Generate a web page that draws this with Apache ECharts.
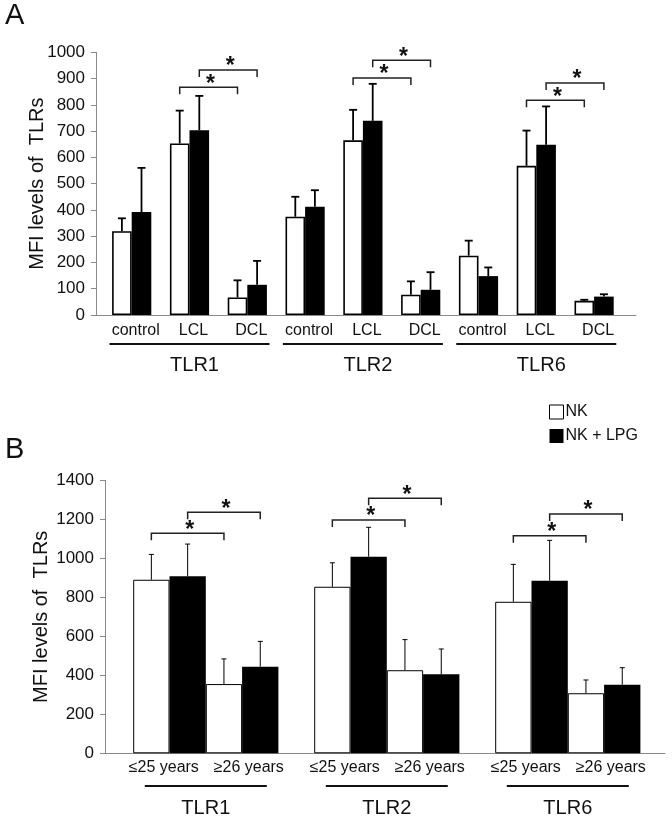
<!DOCTYPE html>
<html><head><meta charset="utf-8">
<script src="https://cdn.jsdelivr.net/npm/echarts@6/dist/echarts.min.js"></script>
<style>html,body{margin:0;padding:0;background:#fff}#c{width:672px;height:821px}</style>
</head><body><div id="c"></div>
<script>
// ---------- Panel A data ----------
const categoriesA = ['control','LCL','DCL','control','LCL','DCL','control','LCL','DCL'];
const groupsA = ['TLR1','TLR2','TLR6'];
const groupMidA = [1, 4, 7];
const nkA = [319, 653, 67, 374, 665, 77, 226, 568, 54];
const nkSdA = [49, 125, 65, 76, 116, 51, 57, 134, 4];
const lpgA = [392, 703, 115, 412, 739, 96, 148, 648, 70];
const lpgSdA = [168, 131, 91, 63, 141, 67, 33, 146, 9];
// [fromCategory, fromSeries, toCategory, toSeries, level]
const bracketsA = [[1,0,2,0,867],[1,1,2,1,933],[4,0,5,0,902],[4,1,5,1,970],[7,0,8,0,817],[7,1,8,1,883]];
const yMinA = 0, yMaxA = 1000, yStepA = 100;

// ---------- Panel B data ----------
const categoriesB = ['TLR1','TLR2','TLR6'];
const ageLabelsB = ['≤25 years','≥26 years'];
const nkYoungB = [890, 854, 777];
const nkYoungSdB = [130, 123, 192];
const lpgYoungB = [908, 1008, 885];
const lpgYoungSdB = [165, 151, 207];
const nkOldB = [355, 426, 308];
const nkOldSdB = [129, 157, 68];
const lpgOldB = [444, 405, 352];
const lpgOldSdB = [130, 130, 87];
const bracketsB = [[0,0,0,2,1128],[0,1,0,3,1236],[1,0,1,2,1196],[1,1,1,3,1308],[2,0,2,2,1116],[2,1,2,3,1227]];
const yMinB = 0, yMaxB = 1400, yStepB = 200;

const seriesNames = ['NK', 'NK + LPG'];
const yTitle = 'MFI levels of  TLRs';

// ---------- style constants ----------
const FONT = '"Liberation Sans", Arial, Helvetica, sans-serif';
const AXIS = '#8a8a8a';
const BW_A = 19.6, BW_B = 36.3;

function off(k, n, w) { return (k - (n - 1) / 2) * w; }

function errorSeries(vals, sds, k, n, w, xi, yi, cap, lw) {
  return {
    type: 'custom', xAxisIndex: xi, yAxisIndex: yi, z: 5, silent: true,
    encode: { x: 0, y: 1 },
    data: vals.map((v, i) => [i, v, sds[i]]),
    renderItem(params, api) {
      const c = api.value(0), v = api.value(1), s = api.value(2);
      const b = api.coord([c, v]), t = api.coord([c, v + s]);
      const x = b[0] + off(k, n, w);
      const st = { stroke: '#000', lineWidth: lw };
      return { type: 'group', children: [
        { type: 'line', shape: { x1: x, y1: b[1], x2: x, y2: t[1] }, style: st },
        { type: 'line', shape: { x1: x - cap, y1: t[1], x2: x + cap, y2: t[1] }, style: st }
      ]};
    }
  };
}

function bracketSeries(data, n, w, xi, yi, tip, starGap) {
  return {
    type: 'custom', xAxisIndex: xi, yAxisIndex: yi, z: 6, silent: true,
    encode: { x: [0, 2], y: 4 },
    data: data,
    renderItem(params, api) {
      const p1 = api.coord([api.value(0), api.value(4)]);
      const p2 = api.coord([api.value(2), api.value(4)]);
      const x1 = p1[0] + off(api.value(1), n, w);
      const x2 = p2[0] + off(api.value(3), n, w);
      const y = p1[1];
      return { type: 'group', children: [
        { type: 'polyline', shape: { points: [[x1, y + tip], [x1, y], [x2, y], [x2, y + tip]] },
          style: { stroke: '#222', lineWidth: 1.5, fill: null } },
        { type: 'text', style: { text: '*', x: (x1 + x2) / 2 + 2, y: y - starGap, align: 'center',
          verticalAlign: 'middle', fontSize: 23, fontWeight: 'bold', fontFamily: FONT, fill: '#111' } }
      ]};
    }
  };
}

const yLabel = { fontSize: 17, fontFamily: FONT, color: '#111', margin: 11, formatter: v => String(v) };
const nameStyle = { fontSize: 20, fontFamily: FONT, color: '#111' };

const chart = echarts.init(document.getElementById('c'), null, { renderer: 'canvas' });
chart.setOption({
  animation: false,
  backgroundColor: '#fff',
  graphic: [
    { type: 'text', left: 5, top: 1, style: { text: 'A', fontSize: 29, fontFamily: FONT, fill: '#111' } },
    { type: 'text', left: 5, top: 435, style: { text: 'B', fontSize: 29, fontFamily: FONT, fill: '#111' } }
  ],
  legend: {
    orient: 'vertical', left: 549, top: 404, padding: 0, itemGap: 8,
    itemWidth: 14, itemHeight: 14, icon: 'rect', selectedMode: false,
    textStyle: { fontSize: 16, fontFamily: FONT, color: '#111', padding: [0, 0, 0, -3] },
    data: [
      { name: seriesNames[0], itemStyle: { color: '#fff', borderColor: '#000', borderWidth: 1 } },
      { name: seriesNames[1], itemStyle: { color: '#000' } }
    ]
  },
  grid: [
    { left: 96, right: 36, top: 52.3, bottom: 506 },        // A axes
    { left: 102.8, width: 520.2, top: 52.3, bottom: 506 },  // A bars
    { left: 105, right: 7, top: 480.3, bottom: 67.7 },      // B axes
    { left: 115.3, width: 543, top: 480.3, bottom: 67.7 }   // B bars
  ],
  xAxis: [
    { gridIndex: 0, type: 'value', min: 0, max: 1, axisLine: { show: true, onZero: false, lineStyle: { color: AXIS, width: 1 } },
      axisTick: { show: false }, axisLabel: { show: false }, splitLine: { show: false } },
    { gridIndex: 1, type: 'category', data: categoriesA, axisLine: { show: false }, axisTick: { show: false },
      axisLabel: { fontSize: 16, fontFamily: FONT, color: '#111', margin: 8, interval: 0, padding: [0, 0, 0, 8] } },
    { gridIndex: 2, type: 'value', min: 0, max: 1, axisLine: { show: true, onZero: false, lineStyle: { color: AXIS, width: 1 } },
      axisTick: { show: false }, axisLabel: { show: false }, splitLine: { show: false } },
    { gridIndex: 3, type: 'category', data: categoriesB, axisLine: { show: false }, axisTick: { show: false },
      axisLabel: { fontSize: 20, fontFamily: FONT, color: '#111', margin: 45, interval: 0 } }
  ],
  yAxis: [
    { gridIndex: 0, type: 'value', min: yMinA, max: yMaxA, interval: yStepA,
      axisLine: { show: true, lineStyle: { color: AXIS, width: 1 } },
      axisTick: { show: true, length: 5, lineStyle: { color: AXIS } },
      axisLabel: yLabel, splitLine: { show: false },
      name: yTitle, nameLocation: 'middle', nameGap: 49, nameMoveOverlap: false, nameTextStyle: nameStyle },
    { gridIndex: 1, type: 'value', min: yMinA, max: yMaxA, show: false },
    { gridIndex: 2, type: 'value', min: yMinB, max: yMaxB, interval: yStepB,
      axisLine: { show: true, lineStyle: { color: AXIS, width: 1 } },
      axisTick: { show: true, length: 5, lineStyle: { color: AXIS } },
      axisLabel: yLabel, splitLine: { show: false },
      name: yTitle, nameLocation: 'middle', nameGap: 54, nameMoveOverlap: false, nameTextStyle: nameStyle },
    { gridIndex: 3, type: 'value', min: yMinB, max: yMaxB, show: false }
  ],
  series: [
    // Panel A bars
    { type: 'bar', name: seriesNames[0], xAxisIndex: 1, yAxisIndex: 1, data: nkA, barWidth: BW_A, barGap: '0%',
      itemStyle: { color: '#fff', borderColor: '#000', borderWidth: 1.6 } },
    { type: 'bar', name: seriesNames[1], xAxisIndex: 1, yAxisIndex: 1, data: lpgA, barWidth: BW_A, barGap: '0%',
      itemStyle: { color: '#000' } },
    errorSeries(nkA, nkSdA, 0, 2, BW_A, 1, 1, 4, 1.8),
    errorSeries(lpgA, lpgSdA, 1, 2, BW_A, 1, 1, 4, 1.8),
    bracketSeries(bracketsA, 2, BW_A, 1, 1, 7, 3),
    // Panel A group labels + underlines
    { type: 'custom', xAxisIndex: 1, yAxisIndex: 1, silent: true, encode: { x: 0, y: 1 },
      data: groupMidA.map(m => [m, 0]),
      renderItem(params, api) {
        const p = api.coord([api.value(0), 0]);
        return { type: 'group', children: [
          { type: 'line', shape: { x1: p[0] - 80, y1: p[1] + 29, x2: p[0] + 80, y2: p[1] + 29 },
            style: { stroke: '#111', lineWidth: 2 } },
          { type: 'text', style: { text: groupsA[params.dataIndex], x: p[0] + 5, y: p[1] + 50, align: 'center',
            verticalAlign: 'middle', fontSize: 20, fontFamily: FONT, fill: '#111' } }
        ]};
      } },
    // Panel B bars
    { type: 'bar', name: seriesNames[0], xAxisIndex: 3, yAxisIndex: 3, data: nkYoungB, barWidth: BW_B, barGap: '0%',
      itemStyle: { color: '#fff', borderColor: '#000', borderWidth: 1 } },
    { type: 'bar', name: seriesNames[1], xAxisIndex: 3, yAxisIndex: 3, data: lpgYoungB, barWidth: BW_B, barGap: '0%',
      itemStyle: { color: '#000' } },
    { type: 'bar', name: seriesNames[0], xAxisIndex: 3, yAxisIndex: 3, data: nkOldB, barWidth: BW_B, barGap: '0%',
      itemStyle: { color: '#fff', borderColor: '#000', borderWidth: 1 } },
    { type: 'bar', name: seriesNames[1], xAxisIndex: 3, yAxisIndex: 3, data: lpgOldB, barWidth: BW_B, barGap: '0%',
      itemStyle: { color: '#000' } },
    errorSeries(nkYoungB, nkYoungSdB, 0, 4, BW_B, 3, 3, 2.5, 1),
    errorSeries(lpgYoungB, lpgYoungSdB, 1, 4, BW_B, 3, 3, 2.5, 1),
    errorSeries(nkOldB, nkOldSdB, 2, 4, BW_B, 3, 3, 2.5, 1),
    errorSeries(lpgOldB, lpgOldSdB, 3, 4, BW_B, 3, 3, 2.5, 1),
    bracketSeries(bracketsB, 4, BW_B, 3, 3, 7, 3),
    // Panel B age labels + underlines
    { type: 'custom', xAxisIndex: 3, yAxisIndex: 3, silent: true, encode: { x: 0, y: 1 },
      data: categoriesB.map((c, i) => [i, 0]),
      renderItem(params, api) {
        const p = api.coord([api.value(0), 0]);
        const ts = { verticalAlign: 'middle', align: 'center', fontSize: 16, fontFamily: FONT, fill: '#111' };
        return { type: 'group', children: [
          { type: 'text', style: Object.assign({ text: ageLabelsB[0], x: p[0] - 42, y: p[1] + 14.5 }, ts) },
          { type: 'text', style: Object.assign({ text: ageLabelsB[1], x: p[0] + 43, y: p[1] + 14.5 }, ts) },
          { type: 'line', shape: { x1: p[0] - 61, y1: p[1] + 32.7, x2: p[0] + 61, y2: p[1] + 32.7 },
            style: { stroke: '#111', lineWidth: 2 } }
        ]};
      } }
  ]
});
</script></body></html>
